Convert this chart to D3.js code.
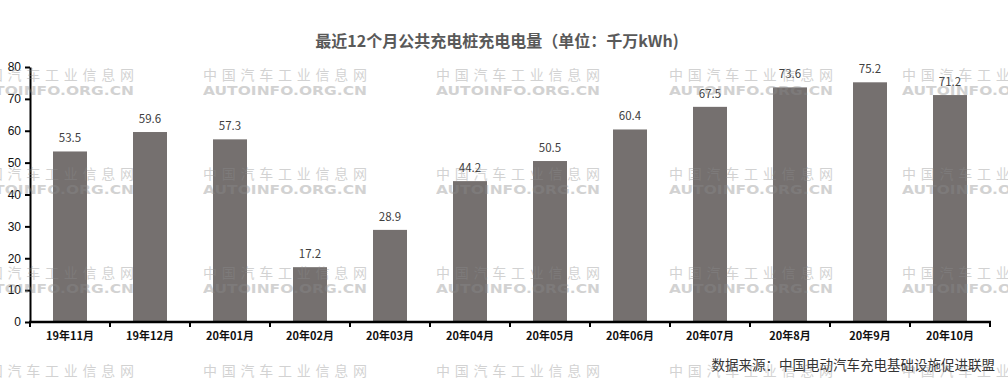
<!DOCTYPE html>
<html lang="zh">
<head>
<meta charset="UTF-8">
<title>最近12个月公共充电桩充电电量</title>
<script src="https://d3js.org/d3.v7.min.js"></script>
<style>
  body { margin: 0; background: #fff; }
  svg { font-family: "Noto Sans CJK SC", "Noto Sans", sans-serif; }
  .watermark text { fill: #8c8c8c; opacity: 0.38; }
</style>
</head>
<body>
<div id="chart"></div>
<script>
// data
const months = ["19年11月", "19年12月", "20年01月", "20年02月", "20年03月", "20年04月",
                "20年05月", "20年06月", "20年07月", "20年8月", "20年9月", "20年10月"];
const values = [53.5, 59.6, 57.3, 17.2, 28.9, 44.2, 50.5, 60.4, 67.5, 73.6, 75.2, 71.2];
const yTicks = [0, 10, 20, 30, 40, 50, 60, 70, 80];

const W = 1008, H = 381;
const plotL = 30, plotR = 990, plotT = 67, plotB = 322;

const svg = d3.select("#chart").append("svg")
    .attr("width", W)
    .attr("height", H);

svg.append("text")
    .attr("x", 497).attr("y", 47)
    .attr("text-anchor", "middle")
    .attr("font-size", 16).attr("font-weight", "bold")
    .attr("fill", "#595959")
    .text("最近12个月公共充电桩充电电量（单位：千万kWh)");

const x = d3.scaleBand().domain(months).range([plotL, plotR]).paddingInner(0.575).paddingOuter(0.2875);
const y = d3.scaleLinear().domain([0, 80]).range([plotB, plotT]);

// bars
svg.append("g").selectAll("rect")
    .data(values)
    .enter().append("rect")
    .attr("x", (d, i) => x(months[i]))
    .attr("width", x.bandwidth())
    .attr("y", d => y(d))
    .attr("height", d => y(0) - y(d))
    .attr("fill", "#75706f");

// value labels
svg.append("g").selectAll("text")
    .data(values)
    .enter().append("text")
    .attr("x", (d, i) => x(months[i]) + x.bandwidth() / 2)
    .attr("y", d => y(d) - 9)
    .attr("text-anchor", "middle")
    .attr("font-size", 11.5)
    .attr("fill", "#404040")
    .text(d => d.toFixed(1));

// y axis
const yAxis = svg.append("g")
    .attr("transform", `translate(${plotL},0)`)
    .call(d3.axisLeft(y).tickValues(yTicks).tickSize(5).tickSizeOuter(0).tickPadding(4));
yAxis.select(".domain").attr("stroke", "#000").attr("stroke-width", 2);
yAxis.selectAll(".tick line").attr("stroke", "#000").attr("stroke-width", 2);
yAxis.selectAll(".tick text").attr("font-size", 12).attr("fill", "#111")
    .attr("font-family", "Liberation Sans, Arial, sans-serif");

// x axis, ticks sit between categories
const xAxis = svg.append("g")
    .attr("transform", `translate(0,${plotB})`);
xAxis.append("line")
    .attr("x1", plotL - 1).attr("x2", plotR + 1)
    .attr("stroke", "#000").attr("stroke-width", 2.5);
const edges = d3.range(months.length + 1).map(i => plotL + i * x.step());
xAxis.selectAll(".xt")
    .data(edges)
    .enter().append("line")
    .attr("x1", d => d).attr("x2", d => d)
    .attr("y1", 0).attr("y2", 5)
    .attr("stroke", "#000").attr("stroke-width", 2);
xAxis.selectAll(".xl")
    .data(months)
    .enter().append("text")
    .attr("x", d => x(d) + x.bandwidth() / 2)
    .attr("y", 18)
    .attr("text-anchor", "middle")
    .attr("font-size", 11).attr("font-weight", "bold")
    .attr("fill", "#111")
    .text(d => d);

// source note
svg.append("text")
    .attr("x", 995).attr("y", 370)
    .attr("text-anchor", "end")
    .attr("font-size", 13.5)
    .attr("fill", "#333")
    .text("数据来源：中国电动汽车充电基础设施促进联盟");

// watermark grid
const wmCols = [-30, 203, 436, 669, 902];
const wmRows = [74, 173, 272, 370];
const wm = svg.append("g").attr("class", "watermark");
wmRows.forEach(ry => {
  wmCols.forEach(cx => {
    wm.append("text")
      .attr("x", cx).attr("y", ry + 6)
      .attr("font-size", 14)
      .attr("textLength", 164).attr("lengthAdjust", "spacing")
      .text("中国汽车工业信息网");
    wm.append("text")
      .attr("x", cx).attr("y", ry + 21)
      .attr("font-size", 13).attr("font-weight", "bold")
      .attr("font-family", "DejaVu Sans, sans-serif")
      .attr("textLength", 164).attr("lengthAdjust", "spacingAndGlyphs")
      .text("AUTOINFO.ORG.CN");
  });
});
</script>
</body>
</html>
